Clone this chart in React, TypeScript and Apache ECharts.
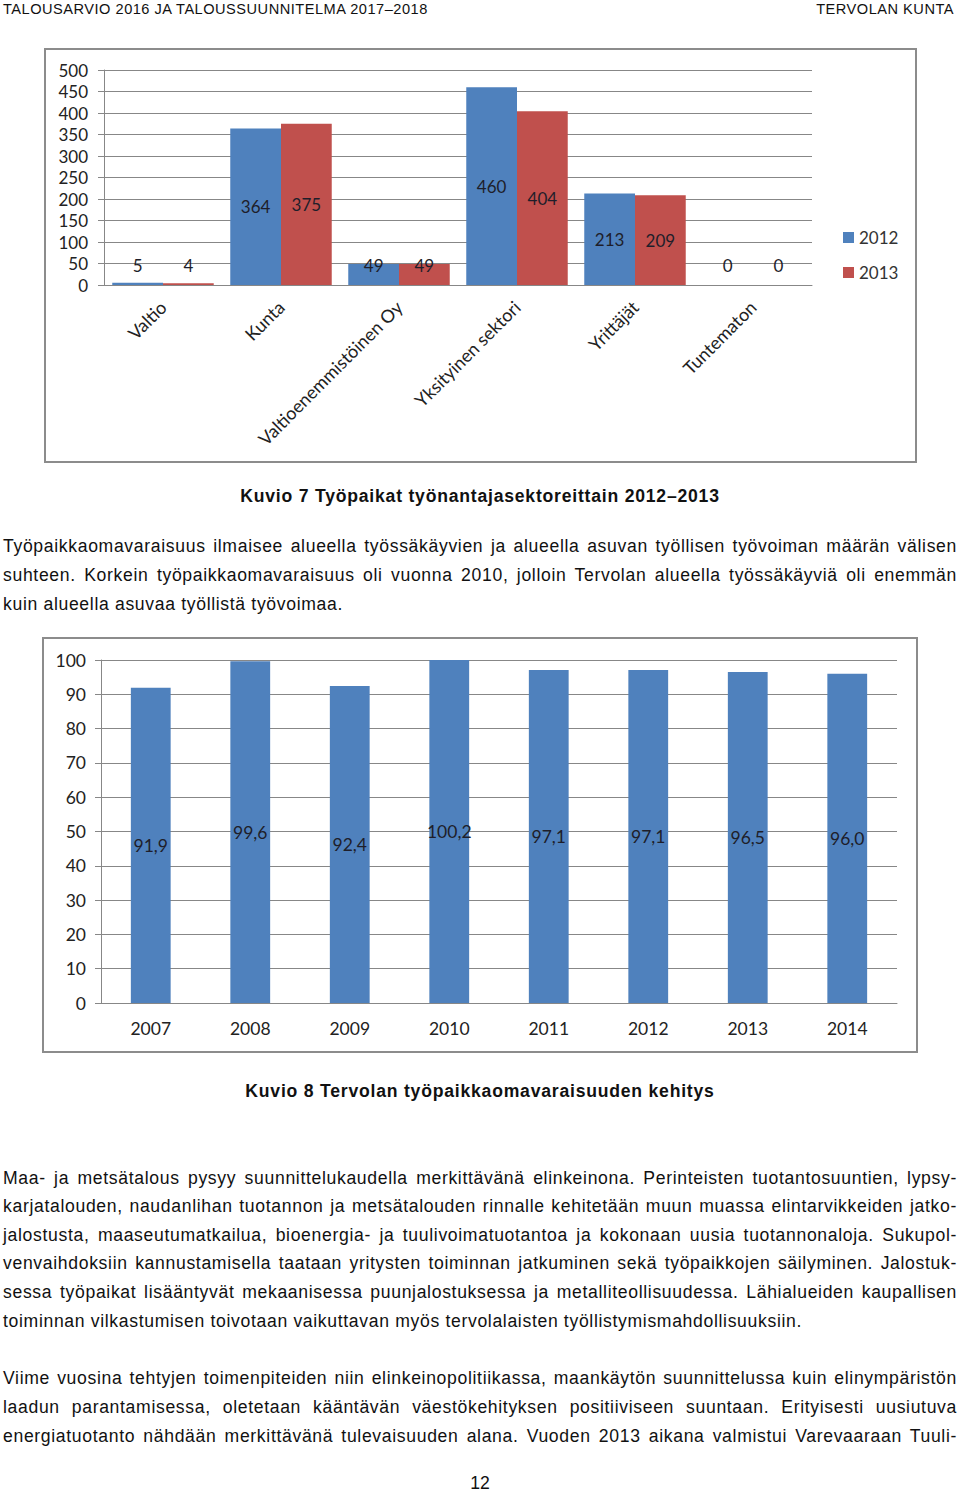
import React, { useEffect, useRef } from 'react';
import * as echarts from 'echarts';

const sectors = ['Valtio', 'Kunta', 'Valtioenemmistöinen Oy', 'Yksityinen sektori', 'Yrittäjät', 'Tuntematon'];
const seriesNames = ['2012', '2013'];
const jobs2012 = [5, 364, 49, 460, 213, 0];
const jobs2013 = [4, 375, 49, 404, 209, 0];

const years = ['2007', '2008', '2009', '2010', '2011', '2012', '2013', '2014'];
const selfSufficiency = [91.9, 99.6, 92.4, 100.2, 97.1, 97.1, 96.5, 96.0];

const CH_FONT = 'Lato, "Open Sans", sans-serif';
const GRID = '#878787';
const LABEL = '#1e1e2a';

function useChart(option: any) {
  const ref = useRef<HTMLDivElement>(null);
  useEffect(() => {
    if (!ref.current) return;
    const chart = echarts.init(ref.current, undefined, { renderer: 'svg' });
    chart.setOption(option);
    return () => chart.dispose();
  }, []);
  return ref;
}

const smallLabel = (v: number) =>
  v < 60
    ? { value: v, label: { position: 'insideBottom', distance: 11 } }
    : { value: v, label: { position: 'inside' } };

const F1 = 17;
const F2 = 17.5;

const option1 = {
  animation: false,
  textStyle: { fontFamily: CH_FONT },
  graphic: [
    { type: 'rect', shape: { x: 45, y: 1, width: 871, height: 413 }, style: { fill: 'none', stroke: '#8c8c8c', lineWidth: 2 } },
  ],
  legend: {
    orient: 'vertical',
    left: 843,
    top: 181,
    padding: 0,
    itemWidth: 11,
    itemHeight: 11,
    itemGap: 18,
    icon: 'rect',
    data: seriesNames,
    textStyle: { fontFamily: CH_FONT, fontSize: F1, color: '#333' },
  },
  grid: { left: 104, right: 148, top: 22, bottom: 179 },
  xAxis: {
    type: 'category',
    data: sectors,
    axisLine: { lineStyle: { color: GRID } },
    axisTick: { length: 6, lineStyle: { color: GRID } },
    axisLabel: { rotate: 45, margin: 19, fontSize: 18, color: '#222', fontFamily: CH_FONT, interval: 0 },
  },
  yAxis: {
    type: 'value',
    min: 0,
    max: 500,
    interval: 50,
    axisLine: { show: true, lineStyle: { color: GRID } },
    axisTick: { show: true, length: 6, lineStyle: { color: GRID } },
    splitLine: { lineStyle: { color: GRID } },
    axisLabel: { margin: 16, fontSize: F1, color: '#222', fontFamily: CH_FONT },
  },
  series: [
    {
      name: seriesNames[0],
      type: 'bar',
      barGap: '0%',
      barCategoryGap: '14%',
      itemStyle: { color: '#4F81BD' },
      label: { show: true, fontSize: F1, color: LABEL, fontFamily: CH_FONT },
      data: jobs2012.map(smallLabel),
    },
    {
      name: seriesNames[1],
      type: 'bar',
      barGap: '0%',
      barCategoryGap: '14%',
      itemStyle: { color: '#C0504D' },
      label: { show: true, fontSize: F1, color: LABEL, fontFamily: CH_FONT },
      data: jobs2013.map(smallLabel),
    },
  ],
};

const option2 = {
  animation: false,
  textStyle: { fontFamily: CH_FONT },
  graphic: [
    { type: 'rect', shape: { x: 43, y: 1, width: 874, height: 414 }, style: { fill: 'none', stroke: '#8c8c8c', lineWidth: 2 } },
  ],
  grid: { left: 101, right: 63, top: 23, bottom: 51 },
  xAxis: {
    type: 'category',
    data: years,
    axisLine: { lineStyle: { color: GRID } },
    axisTick: { length: 6, lineStyle: { color: GRID } },
    axisLabel: { margin: 16, fontSize: F2, color: '#222', fontFamily: CH_FONT },
  },
  yAxis: {
    type: 'value',
    min: 0,
    max: 100,
    interval: 10,
    axisLine: { show: true, lineStyle: { color: GRID } },
    axisTick: { show: true, length: 6, lineStyle: { color: GRID } },
    splitLine: { lineStyle: { color: GRID } },
    axisLabel: { margin: 15, fontSize: F2, color: '#222', fontFamily: CH_FONT },
  },
  series: [
    {
      type: 'bar',
      barCategoryGap: '60%',
      itemStyle: { color: '#4F81BD' },
      clip: true,
      label: {
        show: true,
        position: 'inside',
        fontSize: F2,
        color: LABEL,
        fontFamily: CH_FONT,
        formatter: (p: any) => Number(p.value).toFixed(1).replace('.', ','),
      },
      data: selfSufficiency,
    },
  ],
};

const TXT_FONT = '"Liberation Sans", Arial, sans-serif';

type Line = { t: string; y: number; j?: boolean };

const para1: Line[] = [
  { t: 'Työpaikkaomavaraisuus ilmaisee alueella työssäkäyvien ja alueella asuvan työllisen työvoiman määrän välisen', y: 546, j: true },
  { t: 'suhteen. Korkein työpaikkaomavaraisuus oli vuonna 2010, jolloin Tervolan alueella työssäkäyviä oli enemmän', y: 575, j: true },
  { t: 'kuin alueella asuvaa työllistä työvoimaa.', y: 604 },
];
const para2: Line[] = [
  { t: 'Maa- ja metsätalous pysyy suunnittelukaudella merkittävänä elinkeinona. Perinteisten tuotantosuuntien, lypsy-', y: 1178, j: true },
  { t: 'karjatalouden, naudanlihan tuotannon ja metsätalouden rinnalle kehitetään muun muassa elintarvikkeiden jatko-', y: 1206, j: true },
  { t: 'jalostusta, maaseutumatkailua, bioenergia- ja tuulivoimatuotantoa ja kokonaan uusia tuotannonaloja. Sukupol-', y: 1235, j: true },
  { t: 'venvaihdoksiin kannustamisella taataan yritysten toiminnan jatkuminen sekä työpaikkojen säilyminen. Jalostuk-', y: 1263, j: true },
  { t: 'sessa työpaikat lisääntyvät mekaanisessa puunjalostuksessa ja metalliteollisuudessa. Lähialueiden kaupallisen', y: 1292, j: true },
  { t: 'toiminnan vilkastumisen toivotaan vaikuttavan myös tervolalaisten työllistymismahdollisuuksiin.', y: 1321 },
];
const para3: Line[] = [
  { t: 'Viime vuosina tehtyjen toimenpiteiden niin elinkeinopolitiikassa, maankäytön suunnittelussa kuin elinympäristön', y: 1378, j: true },
  { t: 'laadun parantamisessa, oletetaan kääntävän väestökehityksen positiiviseen suuntaan. Erityisesti uusiutuva', y: 1407, j: true },
  { t: 'energiatuotanto nähdään merkittävänä tulevaisuuden alana. Vuoden 2013 aikana valmistui Varevaaraan Tuuli-', y: 1436, j: true },
];

function TextLine({ l }: { l: Line }) {
  return (
    <div
      style={{
        position: 'absolute',
        left: 3,
        width: 954,
        top: l.y - 14,
        height: 28,
        lineHeight: '28px',
        fontSize: 17.6,
        letterSpacing: '0.66px',
        fontFamily: TXT_FONT,
        color: '#111',
        whiteSpace: 'nowrap',
        textAlign: l.j ? 'justify' : 'left',
        textAlignLast: l.j ? 'justify' : 'left',
      } as any}
    >
      {l.t}
    </div>
  );
}

export default function App() {
  const r1 = useChart(option1);
  const r2 = useChart(option2);
  const abs = (o: any) => ({ position: 'absolute', ...o });
  const head = { top: 0, height: 18, lineHeight: '18px', fontSize: 14.6, letterSpacing: '0.5px', fontFamily: TXT_FONT, color: '#111' };
  const cap = { left: 0, width: 960, height: 28, lineHeight: '28px', textAlign: 'center', fontWeight: 'bold', fontSize: 17.6, letterSpacing: '0.78px', fontFamily: TXT_FONT, color: '#111' };
  return (
    <div style={{ position: 'absolute', left: 0, top: 0, width: 960, height: 1493, background: '#fff', overflow: 'hidden' }}>
      <div style={abs({ left: 3, ...head })}>TALOUSARVIO 2016 JA TALOUSSUUNNITELMA 2017–2018</div>
      <div style={abs({ right: 6, ...head })}>TERVOLAN KUNTA</div>
      <div ref={r1} style={abs({ left: 0, top: 48, width: 960, height: 416 })} />
      <div style={abs({ top: 482, ...cap })}>Kuvio 7 Työpaikat työnantajasektoreittain 2012–2013</div>
      {para1.map((l, i) => <TextLine key={'a' + i} l={l} />)}
      <div ref={r2} style={abs({ left: 0, top: 637, width: 960, height: 417 })} />
      <div style={abs({ top: 1077, ...cap })}>Kuvio 8 Tervolan työpaikkaomavaraisuuden kehitys</div>
      {para2.map((l, i) => <TextLine key={'b' + i} l={l} />)}
      {para3.map((l, i) => <TextLine key={'c' + i} l={l} />)}
      <div style={abs({ left: 0, width: 960, top: 1469, height: 28, lineHeight: '28px', textAlign: 'center', fontSize: 17.6, fontFamily: TXT_FONT, color: '#111' })}>
        12
      </div>
    </div>
  );
}
